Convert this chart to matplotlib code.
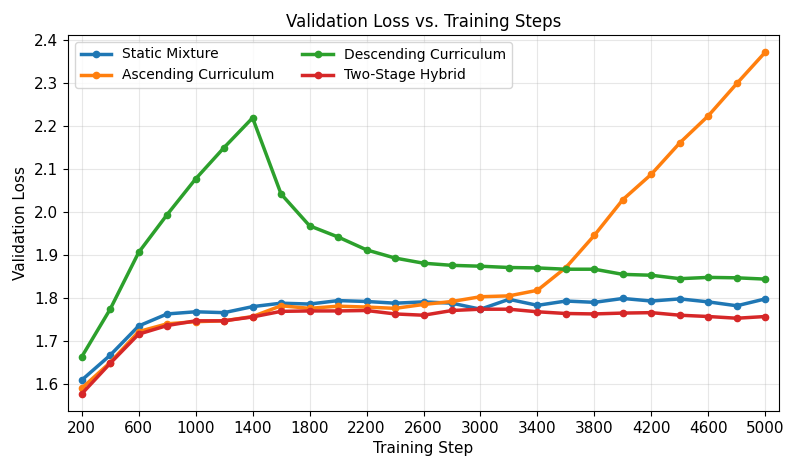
import matplotlib
matplotlib.use("Agg")
import matplotlib.pyplot as plt

steps = list(range(200, 5001, 200))
static_mixture = [1.609, 1.667, 1.735, 1.763, 1.768, 1.766, 1.780, 1.788, 1.786, 1.794,
                  1.792, 1.788, 1.791, 1.788, 1.774, 1.797, 1.783, 1.793, 1.790, 1.799,
                  1.793, 1.798, 1.791, 1.782, 1.798]
ascending = [1.590, 1.650, 1.722, 1.740, 1.745, 1.747, 1.757, 1.782, 1.776, 1.781,
             1.779, 1.776, 1.785, 1.792, 1.803, 1.805, 1.818, 1.871, 1.946, 2.029,
             2.088, 2.161, 2.224, 2.299, 2.372]
descending = [1.663, 1.774, 1.906, 1.994, 2.077, 2.150, 2.219, 2.042, 1.968, 1.942,
              1.912, 1.893, 1.881, 1.876, 1.874, 1.871, 1.870, 1.867, 1.867, 1.855,
              1.853, 1.845, 1.848, 1.847, 1.844]
two_stage = [1.577, 1.648, 1.716, 1.736, 1.747, 1.747, 1.756, 1.769, 1.770, 1.770,
             1.771, 1.763, 1.760, 1.771, 1.774, 1.774, 1.768, 1.764, 1.763, 1.765,
             1.766, 1.760, 1.757, 1.753, 1.757]
xticks = list(range(200, 5001, 400))

fig = plt.figure(figsize=(7.97, 4.70), dpi=100)
ax = fig.add_axes([68/797, 1 - 411/470, (779-68)/797, (411-35)/470])

series = [
    ("Static Mixture", static_mixture, "#1f77b4"),
    ("Ascending Curriculum", ascending, "#ff7f0e"),
    ("Descending Curriculum", descending, "#2ca02c"),
    ("Two-Stage Hybrid", two_stage, "#d62728"),
]
for label, vals, c in series:
    ax.plot(steps, vals, marker="o", markersize=4.5, linewidth=2.5, color=c, label=label)

ax.set_xticks(xticks)
ax.margins(x=0.02, y=0.05)
ax.grid(True, alpha=0.3)
ax.set_title("Validation Loss vs. Training Steps", fontsize=12)
ax.set_xlabel("Training Step", fontsize=11)
ax.set_ylabel("Validation Loss", fontsize=11)
ax.tick_params(labelsize=11)
ax.legend(ncol=2, loc="upper left", fontsize=10, handlelength=2.2)

fig.savefig("out.png", dpi=100)
